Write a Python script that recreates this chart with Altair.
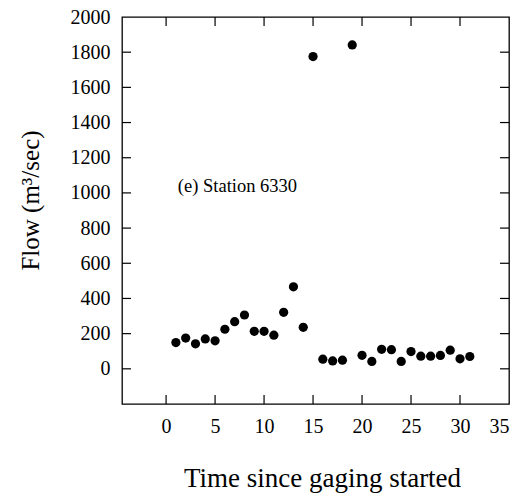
import altair as alt
import pandas as pd

# ---- data ----
time = list(range(1, 32))
flow = [149, 175, 142, 170, 159, 225, 268, 306, 213, 213, 191, 321, 466, 236,
        1775, 55, 45, 49, 1841, 77, 42, 111, 109, 42, 98, 72, 72, 76, 106, 57, 70]
x_ticks = [0, 5, 10, 15, 20, 25, 30, 35]
y_ticks = [0, 200, 400, 600, 800, 1000, 1200, 1400, 1600, 1800, 2000]
x_domain = [-4.5, 35]
y_domain = [-200, 2000]
label_text = ["(e)  Station 6330"]
label_x = [1.2]
label_y = [1040]

W, H = 387, 387
TICK = 9

df = pd.DataFrame({"t": time, "flow": flow})
lab = pd.DataFrame({"t": label_x, "flow": label_y, "text": label_text})
xt = pd.DataFrame({"t": x_ticks[:-1]})
yt = pd.DataFrame({"flow": y_ticks[:-1]})

FONT = "Liberation Serif"
xs = alt.Scale(domain=x_domain, nice=False, zero=False)
ys = alt.Scale(domain=y_domain, nice=False, zero=False)

x_axis = alt.Axis(
    values=x_ticks, ticks=False, domain=False, grid=False, labelPadding=12,
    labelFont=FONT, labelFontSize=20, format="d", labelColor="black",
    labelOverlap=False,
    title="Time since gaging started", titleFont=FONT, titleFontSize=27,
    titleFontWeight="normal", titleColor="black",
    titleX=200, titleY=74, titleAlign="center", titleBaseline="middle")
y_axis = alt.Axis(
    values=y_ticks, ticks=False, domain=False, grid=False, labelPadding=12,
    labelFont=FONT, labelFontSize=20, format="d", labelColor="black",
    labelOverlap=False,
    title="Flow  (m³/sec)", titleFont=FONT, titleFontSize=25,
    titleFontWeight="normal", titleColor="black",
    titleX=-92, titleY=183, titleAlign="center", titleBaseline="middle")

X = lambda: alt.X("t:Q", scale=xs, axis=x_axis)
Y = lambda: alt.Y("flow:Q", scale=ys, axis=y_axis)

points = alt.Chart(df).mark_circle(size=85, color="black", opacity=1).encode(x=X(), y=Y())

tick_style = dict(color="black", thickness=1.2, size=TICK, opacity=1)

left_ticks = alt.Chart(yt).mark_tick(orient="horizontal", **tick_style).encode(
    y=Y(), x=alt.value(TICK / 2))
right_ticks = alt.Chart(yt).mark_tick(orient="horizontal", **tick_style).encode(
    y=Y(), x=alt.value(W - TICK / 2))
bottom_ticks = alt.Chart(xt).mark_tick(orient="vertical", **tick_style).encode(
    x=X(), y=alt.value(H - TICK / 2))
top_ticks = alt.Chart(xt).mark_tick(orient="vertical", **tick_style).encode(
    x=X(), y=alt.value(TICK / 2))

label = alt.Chart(lab).mark_text(font=FONT, fontSize=18.5, align="left",
                                 baseline="middle", color="black").encode(
    x=X(), y=Y(), text="text:N")

chart = alt.layer(points, left_ticks, right_ticks, bottom_ticks, top_ticks, label).properties(
    width=W, height=H,
    autosize=alt.AutoSizeParams(type="none"),
    padding={"left": 122, "top": 17, "right": 15, "bottom": 90},
    background="white",
).configure_view(
    stroke="black", strokeWidth=1.3
).configure_axis(
    labelFont=FONT, titleFont=FONT, labelColor="black", titleColor="black",
    titleFontWeight="normal"
)

chart.save("out.html", embed_options={"renderer": "svg", "actions": False})
